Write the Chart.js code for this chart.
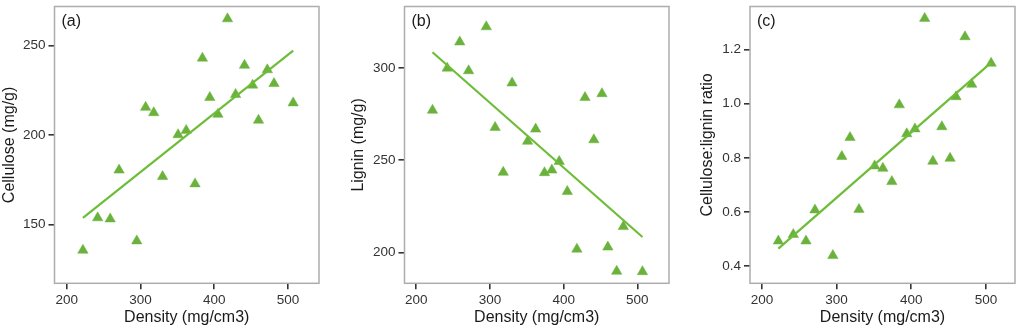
<!DOCTYPE html>
<html><head><meta charset="utf-8">
<script src="https://cdn.jsdelivr.net/npm/chart.js@4/dist/chart.umd.min.js"></script>
<style>
html,body{margin:0;padding:0;background:#fff;width:1024px;height:328px;overflow:hidden;}
canvas{position:absolute;top:0;}
</style></head><body>
<canvas id="ca" width="340" height="328" style="left:0px"></canvas>
<canvas id="cb" width="340" height="328" style="left:345px"></canvas>
<canvas id="cc" width="334" height="328" style="left:690px"></canvas>
<script>
const density   = [222, 242, 259, 271, 295, 307, 318, 330, 351, 362, 374, 384, 394, 405, 418, 429, 441, 452, 460, 472, 481, 507];
const cellulose = [135.6, 153.7, 153.1, 180.4, 140.8, 215.5, 212.5, 176.8, 200.2, 202.6, 172.7, 243.0, 221.0, 211.6, 265.0, 222.7, 239.0, 227.9, 208.3, 236.5, 228.8, 218.0];
const lignin    = [277.0, 299.8, 314.0, 298.4, 322.2, 267.7, 243.4, 291.8, 260.2, 266.8, 243.2, 244.6, 249.3, 233.0, 201.8, 283.9, 261.0, 286.0, 202.9, 189.8, 214.0, 189.6];
const ratio     = [0.492, 0.516, 0.492, 0.607, 0.438, 0.805, 0.875, 0.609, 0.770, 0.761, 0.712, 0.996, 0.889, 0.907, 1.316, 0.787, 0.915, 0.798, 1.026, 1.248, 1.072, 1.150];

const fitX         = [222, 507];
const fitCellulose = [153.7, 247.2];
const fitLignin    = [308.4, 208.4];
const fitRatio     = [0.464, 1.152];

const xTicks = [200, 300, 400, 500];
const ticksA = [150, 200, 250];
const ticksB = [200, 250, 300];
const ticksC = [0.4, 0.6, 0.8, 1.0, 1.2];

const panelLabels = ['(a)', '(b)', '(c)'];
const yTitles = ['Cellulose (mg/g)', 'Lignin (mg/g)', 'Cellulose:lignin ratio'];
const xTitle = 'Density (mg/cm3)';

const FONT = '"Liberation Sans", Arial, Helvetica, sans-serif';
const GREEN_PT = '#6ab23c';
const GREEN_LN = '#6dbd38';

const frame = {
  id: 'frame',
  afterDraw(chart, args, opts) {
    const {ctx, chartArea: a} = chart;
    ctx.save();
    ctx.strokeStyle = '#adadad';
    ctx.lineWidth = 1.5;
    ctx.strokeRect(a.left, a.top, a.right - a.left, a.bottom - a.top);
    ctx.fillStyle = '#1a1a1a';
    ctx.font = '16px ' + FONT;
    ctx.textBaseline = 'middle';
    ctx.textAlign = 'left';
    ctx.fillText(opts.label, a.left + 7, a.top + 15);
    ctx.restore();
  }
};

function makePanel(id, yVals, fitY, yTicks, idx, L) {
  new Chart(document.getElementById(id), {
    data: {
      datasets: [
        {
          type: 'line',
          data: fitX.map((x, i) => ({x, y: fitY[i]})),
          borderColor: GREEN_LN, borderWidth: 2.2, pointRadius: 0, fill: false, tension: 0
        },
        {
          type: 'scatter',
          data: density.map((x, i) => ({x, y: yVals[i]})),
          pointStyle: 'triangle', pointRadius: 6,
          backgroundColor: GREEN_PT, borderColor: GREEN_PT, borderWidth: 0.5
        }
      ]
    },
    options: {
      responsive: false, animation: false, events: [],
      layout: {padding: {top: 4, right: L.padRight, left: 0, bottom: 0}},
      plugins: {legend: {display: false}, tooltip: {enabled: false}, frame: {label: panelLabels[idx]}},
      scales: {
        x: {
          type: 'linear', position: 'bottom', min: L.xMin, max: L.xMax,
          afterBuildTicks: s => { s.ticks = xTicks.map(v => ({value: v})); },
          afterFit: s => { s.height = 44.7; s.paddingLeft = 0; s.paddingRight = 0; },
          border: {display: false},
          grid: {drawOnChartArea: false, drawTicks: true, tickLength: 6, color: '#333', lineWidth: 1.6},
          ticks: {font: {size: 13.5, family: FONT}, color: '#333', padding: 2.5, maxRotation: 0},
          title: {display: true, text: xTitle, color: '#1a1a1a', font: {size: 16, family: FONT}, padding: {top: 0, bottom: 1}}
        },
        y: {
          type: 'linear', position: 'left', min: L.yMin, max: L.yMax,
          afterBuildTicks: s => { s.ticks = yTicks.map(v => ({value: v})); },
          afterFit: s => { s.width = L.yWidth; s.paddingTop = 0; s.paddingBottom = 0; },
          border: {display: false},
          grid: {drawOnChartArea: false, drawTicks: true, tickLength: 6, color: '#333', lineWidth: 1.6},
          ticks: {font: {size: 13.5, family: FONT}, color: '#333', padding: 3,
                  callback: v => L.dec ? Number(v).toFixed(L.dec) : String(v)},
          title: {display: true, text: yTitles[idx], color: '#1a1a1a', font: {size: 16, family: FONT}, padding: {top: L.titlePad, bottom: 0}}
        }
      }
    },
    plugins: [frame]
  });
}

makePanel('ca', cellulose, fitCellulose, ticksA, 0,
  {padRight: 21, yWidth: 54.5, xMin: 183.5, xMax: 542, yMin: 117.1, yMax: 271.9, titlePad: 0.4, dec: 0});
makePanel('cb', lignin, fitLignin, ticksB, 1,
  {padRight: 16, yWidth: 59.5, xMin: 184, xMax: 543, yMin: 183.3, yMax: 333.2, titlePad: 3.5, dec: 0});
makePanel('cc', ratio, fitRatio, ticksC, 2,
  {padRight: 9, yWidth: 60, xMin: 184, xMax: 539, yMin: 0.3355, yMax: 1.360, titlePad: 8.4, dec: 1});
</script>
</body></html>
